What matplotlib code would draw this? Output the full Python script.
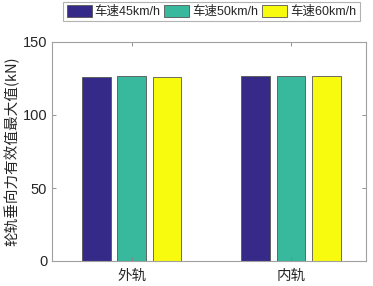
import matplotlib
matplotlib.use('Agg')
import matplotlib.pyplot as plt
import numpy as np

plt.rcParams['font.family'] = ['Liberation Sans', 'Noto Sans CJK SC', 'DejaVu Sans']

# data
rails = ['外轨', '内轨']
speeds = ['车速45km/h', '车速50km/h', '车速60km/h']
force_45 = [126.3, 126.7]
force_50 = [126.4, 126.8]
force_60 = [126.0, 126.6]

colors = ['#352A87', '#38B99E', '#F9FB0E']
series = [force_45, force_50, force_60]

fig = plt.figure(figsize=(3.73, 2.86), dpi=100)
ax = fig.add_axes([52 / 373, 1 - 261 / 286, (366 - 52) / 373, (261 - 42) / 286])

x = np.arange(1, len(rails) + 1)
width = 0.18
step = 0.222
for i, (vals, c, lab) in enumerate(zip(series, colors, speeds)):
    ax.bar(x + (i - 1) * step, vals, width, color=c, edgecolor='#555555',
           linewidth=0.6, label=lab)

ax.set_xlim(0.5, 2.47)
ax.set_ylim(0, 150)
ax.set_yticks([0, 50, 100, 150])
ax.set_xticks(x)
ax.set_xticklabels(rails, family=['Noto Sans CJK SC'], fontsize=10.5)
ax.set_ylabel('轮轨垂向力有效值最大值(kN)', family=['Noto Sans CJK SC', 'Liberation Sans'],
              fontsize=10.5, color='#262626', labelpad=2)

for s in ax.spines.values():
    s.set_color('#a0a0a0')
    s.set_linewidth(0.8)
ax.tick_params(direction='in', length=3, width=0.6, color='#808080',
               labelsize=10.5, labelcolor='#262626', top=True, right=True)
ax.tick_params(axis='x', pad=6)

leg = fig.legend(*ax.get_legend_handles_labels(), loc='upper center',
                 bbox_to_anchor=(211.5 / 373, 1 - 1.5 / 286), ncol=3,
                 frameon=True, fancybox=False, edgecolor='#a0a0a0',
                 handlelength=2.0, handleheight=1.1, handletextpad=0.25,
                 columnspacing=0.3, borderpad=0.25, borderaxespad=0,
                 prop={'family': ['Liberation Sans', 'Noto Sans CJK SC'], 'size': 9})
leg.get_frame().set_linewidth(0.8)
for t in leg.get_texts():
    t.set_color('#262626')

fig.savefig('out.png', dpi=100)
